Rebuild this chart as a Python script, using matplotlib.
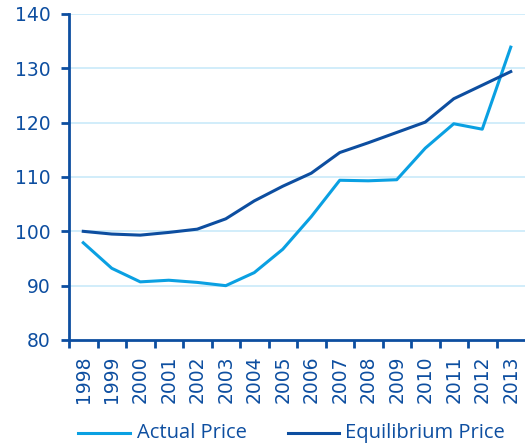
import numpy as np
import matplotlib.pyplot as plt
from matplotlib.lines import Line2D

years = [str(y) for y in range(1998, 2014)]
actual = [97.9, 93.2, 90.7, 91.0, 90.6, 90.0, 92.4, 96.7, 102.7, 109.4,
          109.3, 109.5, 115.3, 119.8, 118.8, 133.9]
equilibrium = [100.0, 99.5, 99.3, 99.8, 100.4, 102.3, 105.6, 108.3, 110.7,
               114.5, 116.3, 118.2, 120.1, 124.4, 126.9, 129.4]
series_names = ["Actual Price", "Equilibrium Price"]

DARK = "#0d4ea0"
LIGHT = "#0aa0e2"
GRID = "#c9eaf9"

W, H = 525, 444
fig = plt.figure(figsize=(W / 100, H / 100), dpi=100)
ax = fig.add_axes([69 / W, 1 - 340 / H, 1 - 69 / W, (340 - 14) / H])

x = np.arange(len(years))
ax.plot(x, actual, color=LIGHT, lw=2.2)
ax.plot(x, equilibrium, color=DARK, lw=2.2)

ax.set_xlim(-0.5, len(years) - 0.5)
ax.set_ylim(80, 140)
ax.set_yticks(range(80, 141, 10))
for v in range(90, 141, 10):
    ax.axhline(v, color=GRID, lw=1.2, zorder=0)

# ticks at category boundaries, labels at centres
ax.set_xticks(np.arange(-0.5, len(years) - 1, 1.0))
ax.set_xticklabels([])
ax.set_xticks(x, minor=True)
ax.set_xticklabels(years, minor=True, rotation=90, fontsize=13.5,
                   color=DARK, family="DejaVu Sans")
ax.tick_params(axis="x", which="minor", length=0, pad=11)
ax.tick_params(axis="x", which="major", length=6, width=2, color=DARK)
ax.tick_params(axis="y", length=6, width=2, color=DARK, labelsize=13.5,
               labelcolor=DARK, pad=7)
for lab in ax.get_yticklabels():
    lab.set_family("DejaVu Sans")

for s in ["top", "right"]:
    ax.spines[s].set_visible(False)
for s in ["left", "bottom"]:
    ax.spines[s].set_color(DARK)
    ax.spines[s].set_linewidth(2)

# legend drawn by hand along the bottom
ly = 1 - 433 / H
for (x0, x1, tx), col, name in zip([(78, 130, 137), (288, 339, 345)],
                                   [LIGHT, DARK], series_names):
    fig.add_artist(Line2D([x0 / W, x1 / W], [ly, ly], color=col, lw=2.2,
                          transform=fig.transFigure))
    fig.text(tx / W, ly, name, ha="left", va="center", fontsize=14.5,
             color=DARK, family="Open Sans")

fig.savefig("out.png", dpi=100)
